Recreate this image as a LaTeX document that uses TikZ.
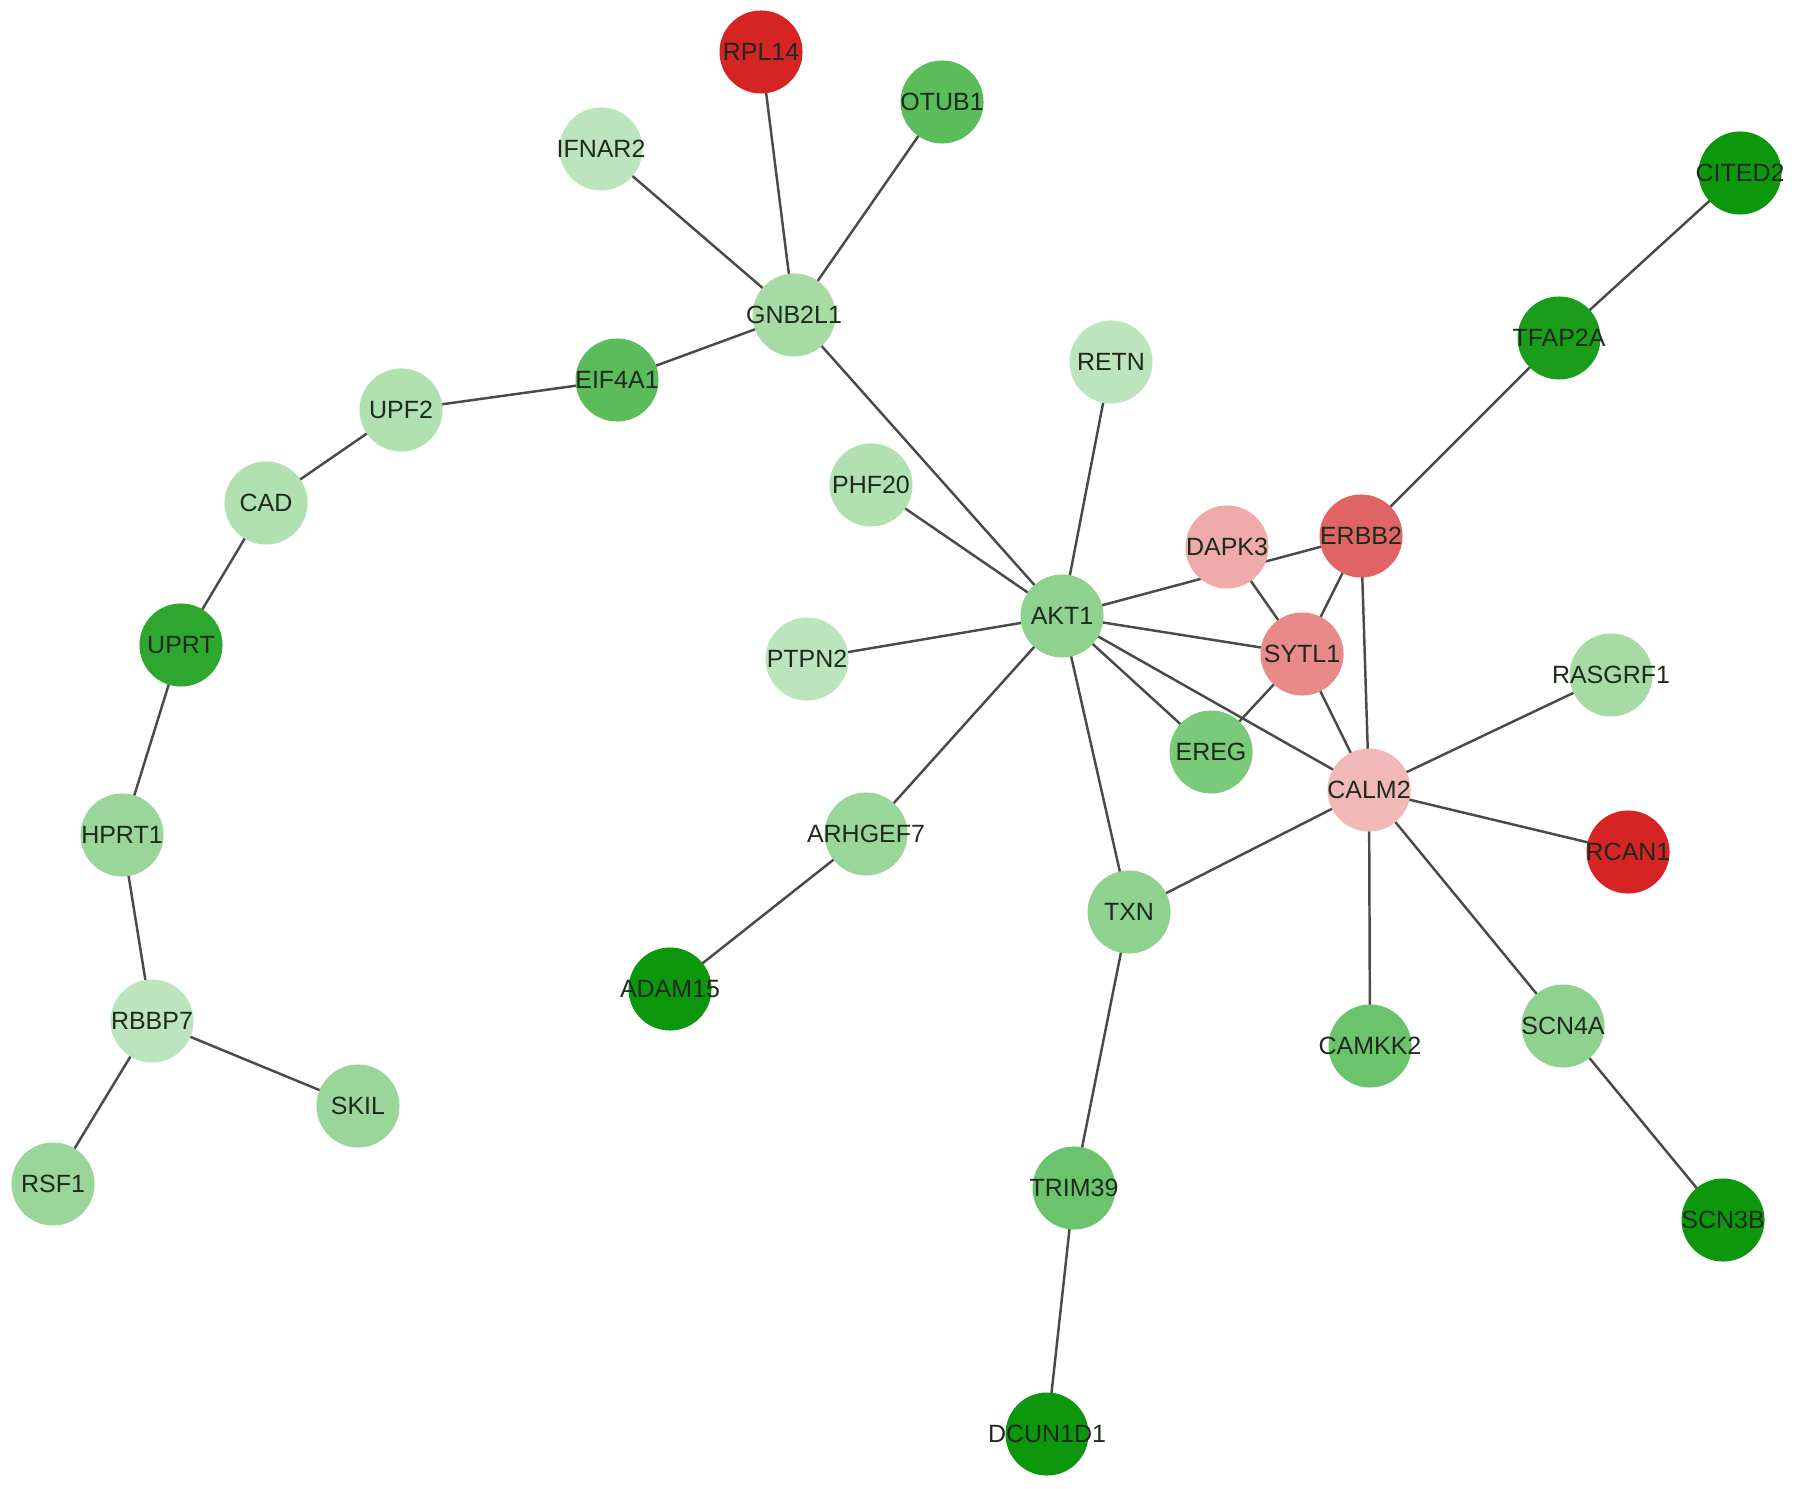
\documentclass[tikz,border=0pt]{standalone}
\usepackage{fontspec}
\setmainfont{Liberation Sans}
\usetikzlibrary{backgrounds}
\definecolor{edgec}{HTML}{4A4A4A}
\definecolor{txtc}{HTML}{1E2A1E}
\definecolor{rA}{HTML}{D62424}
\definecolor{rB}{HTML}{E06464}
\definecolor{rC}{HTML}{E98A8A}
\definecolor{rD}{HTML}{F0AAAA}
\definecolor{rE}{HTML}{F2B8B8}
\definecolor{gL1}{HTML}{BDE5BD}
\definecolor{gL2}{HTML}{B1E0B1}
\definecolor{gL3}{HTML}{A6DBA6}
\definecolor{gM1}{HTML}{9AD69A}
\definecolor{gM2}{HTML}{8FD28F}
\definecolor{gM3}{HTML}{7ACA7A}
\definecolor{gM4}{HTML}{6BC36B}
\definecolor{gM5}{HTML}{5BBC5B}
\definecolor{gD1}{HTML}{2EA72E}
\definecolor{gD2}{HTML}{1A9E1A}
\definecolor{gD3}{HTML}{0C970C}
\tikzset{
  gn/.style={circle, minimum size=0.83cm, inner sep=0pt, draw=none, fill=#1},
  edge/.style={draw=edgec, line width=0.7pt},
  lab/.style={text=txtc, font=\fontsize{7.1}{8}\selectfont, inner sep=0pt}
}
\newcommand{\gnode}[4]{\node[gn=#4] (#1) at (#2,#3) {}; \node[lab] (#1-t) at (#2,#3) {#1};}
\begin{document}
\begin{tikzpicture}[x=0.01cm, y=-0.01cm]
\useasboundingbox (0,0) rectangle (1795,1489);
\gnode{RPL14}{761}{52}{rA}
\gnode{OTUB1}{942}{102}{gM5}
\gnode{IFNAR2}{601}{149}{gL1}
\gnode{CITED2}{1740}{173}{gD3}
\gnode{GNB2L1}{794}{315}{gL3}
\gnode{TFAP2A}{1559}{338}{gD2}
\gnode{RETN}{1111}{362}{gL1}
\gnode{EIF4A1}{617}{380}{gM5}
\gnode{UPF2}{401}{410}{gL2}
\gnode{PHF20}{871}{485}{gL2}
\gnode{CAD}{266}{503}{gL2}
\gnode{DAPK3}{1227}{547}{rD}
\gnode{ERBB2}{1361}{536}{rB}
\gnode{AKT1}{1062}{616}{gM2}
\gnode{UPRT}{181}{645}{gD1}
\gnode{SYTL1}{1302}{654}{rC}
\gnode{PTPN2}{807}{659}{gL1}
\gnode{RASGRF1}{1611}{675}{gL3}
\gnode{EREG}{1211}{752}{gM3}
\gnode{CALM2}{1369}{790}{rE}
\gnode{HPRT1}{122}{835}{gM1}
\gnode{ARHGEF7}{866}{834}{gM1}
\gnode{RCAN1}{1628}{852}{rA}
\gnode{TXN}{1129}{912}{gM2}
\gnode{ADAM15}{670}{989}{gD3}
\gnode{RBBP7}{152}{1021}{gL1}
\gnode{CAMKK2}{1370}{1046}{gM4}
\gnode{SCN4A}{1563}{1026}{gM2}
\gnode{SKIL}{358}{1106}{gM1}
\gnode{RSF1}{53}{1184}{gM1}
\gnode{TRIM39}{1074}{1188}{gM4}
\gnode{SCN3B}{1723}{1220}{gD3}
\gnode{DCUN1D1}{1047}{1434}{gD3}
\begin{scope}[on background layer]
\foreach \a/\b in {RPL14/GNB2L1, OTUB1/GNB2L1, IFNAR2/GNB2L1, GNB2L1/EIF4A1,
  EIF4A1/UPF2, UPF2/CAD, CAD/UPRT, UPRT/HPRT1, HPRT1/RBBP7, RBBP7/SKIL, RBBP7/RSF1,
  GNB2L1/AKT1, RETN/AKT1, PHF20/AKT1, PTPN2/AKT1, AKT1/ERBB2, AKT1/SYTL1, AKT1/EREG,
  AKT1/CALM2, AKT1/ARHGEF7, AKT1/TXN, ARHGEF7/ADAM15, DAPK3/SYTL1, ERBB2/SYTL1,
  ERBB2/CALM2, ERBB2/TFAP2A, TFAP2A/CITED2, SYTL1/EREG, SYTL1/CALM2, CALM2/RASGRF1,
  CALM2/RCAN1, CALM2/TXN, CALM2/CAMKK2, CALM2/SCN4A, SCN4A/SCN3B, TXN/TRIM39,
  TRIM39/DCUN1D1}
  \draw[edge] (\a.center) -- (\b.center);
\end{scope}
\end{tikzpicture}
\end{document}
